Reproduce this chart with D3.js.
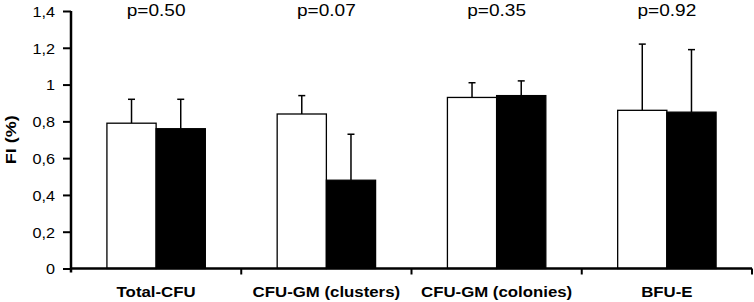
<!DOCTYPE html>
<html>
<head>
<script src="https://cdn.jsdelivr.net/npm/d3@7"></script>
<style type="text/css">
  body{
    margin: 0px;
    background: white;
  }
  svg text{
    font-family: 'Liberation Sans', Arial, sans-serif;
    fill: black;
  }
</style>
</head>
<body>

<svg id="chart" width="754" height="302"></svg>

<script>

// data
var categories = ['Total-CFU', 'CFU-GM (clusters)', 'CFU-GM (colonies)', 'BFU-E'];
var pValues = ['p=0.50', 'p=0.07', 'p=0.35', 'p=0.92'];
var whiteMeans = [0.79, 0.84, 0.93, 0.86];
var whiteErrs  = [0.13, 0.10, 0.08, 0.36];
var blackMeans = [0.76, 0.48, 0.94, 0.85];
var blackErrs  = [0.16, 0.25, 0.08, 0.34];
var yTicks = [0, 0.2, 0.4, 0.6, 0.8, 1, 1.2, 1.4];

var margin = {top: 11, left: 71, right: 2, bottom: 33};
var width = 754, height = 302;

var svg = d3.select('#chart');

var x0 = d3.scaleBand()
  .domain(categories)
  .range([margin.left, width - margin.right])
  .padding(0);

var x1 = d3.scaleBand()
  .domain(['white', 'black'])
  .range([0, x0.bandwidth()])
  .paddingInner(0)
  .paddingOuter(0.73);

var y = d3.scaleLinear()
  .domain([0, 1.4])
  .range([height - margin.bottom - 0.5, margin.top]);

var bars = [];
categories.forEach(function(c, i) {
  bars.push({cat: c, grp: 'white', v: whiteMeans[i], e: whiteErrs[i]});
  bars.push({cat: c, grp: 'black', v: blackMeans[i], e: blackErrs[i]});
});

// error bars first so bar outlines sit on top
var err = svg.append('g').attr('class', 'errors');
bars.forEach(function(d) {
  var cx = x0(d.cat) + x1(d.grp) + x1.bandwidth() / 2;
  err.append('line')
    .attr('x1', cx).attr('x2', cx)
    .attr('y1', y(d.v)).attr('y2', y(d.v + d.e))
    .attr('stroke', 'black').attr('stroke-width', 1.5);
  err.append('line')
    .attr('x1', cx - 3.5).attr('x2', cx + 3.5)
    .attr('y1', y(d.v + d.e)).attr('y2', y(d.v + d.e))
    .attr('stroke', 'black').attr('stroke-width', 1.5);
});

svg.append('g').attr('class', 'bars')
  .selectAll('rect')
  .data(bars)
  .enter()
  .append('rect')
  .attr('x', function(d) { return x0(d.cat) + x1(d.grp); })
  .attr('width', x1.bandwidth())
  .attr('y', function(d) { return y(d.v); })
  .attr('height', function(d) { return y(0) - y(d.v); })
  .attr('fill', function(d) { return d.grp === 'white' ? 'white' : 'black'; })
  .attr('stroke', 'black')
  .attr('stroke-width', 1.3);

// y axis
var yAxis = d3.axisLeft(y)
  .tickValues(yTicks)
  .tickSize(8)
  .tickPadding(8)
  .tickFormat(function(d) { return String(d).replace('.', ','); });

var gy = svg.append('g')
  .attr('transform', 'translate(' + margin.left + ',0)')
  .call(yAxis);
gy.select('.domain').remove();
gy.append('line')
  .attr('x1', 0).attr('x2', 0)
  .attr('y1', y(1.4)).attr('y2', y(0) + 4)
  .attr('stroke', 'black').attr('stroke-width', 2.5);
gy.selectAll('.tick line').attr('stroke-width', 2);
gy.selectAll('.tick text')
  .attr('font-size', '15px')
  .attr('dy', '0.36em')
  .attr('class', 'stretch')
  .attr('data-s', 1.08);

// x axis
svg.append('line')
  .attr('x1', margin.left).attr('x2', width - margin.right)
  .attr('y1', y(0)).attr('y2', y(0))
  .attr('stroke', 'black').attr('stroke-width', 2.5);

var gx = svg.append('g');
categories.forEach(function(c) {
  gx.append('line')
    .attr('x1', x0(c) + x0.bandwidth()).attr('x2', x0(c) + x0.bandwidth())
    .attr('y1', y(0)).attr('y2', y(0) + 6)
    .attr('stroke', 'black').attr('stroke-width', 2);
});

gx.selectAll('text.cat')
  .data(categories)
  .enter()
  .append('text')
  .attr('class', 'stretch')
  .attr('data-s', 1.2)
  .attr('x', function(d) { return x0(d) + x0.bandwidth() / 2; })
  .attr('y', 296.5)
  .attr('text-anchor', 'middle')
  .attr('font-size', '14px')
  .attr('font-weight', 'bold')
  .text(function(d) { return d; });

// p values over each group
svg.append('g')
  .selectAll('text')
  .data(pValues)
  .enter()
  .append('text')
  .attr('class', 'stretch')
  .attr('data-s', 1.12)
  .attr('x', function(d, i) { return x0(categories[i]) + x0.bandwidth() / 2; })
  .attr('y', 16)
  .attr('text-anchor', 'middle')
  .attr('font-size', '17px')
  .text(function(d) { return d; });

// axis title
svg.append('text')
  .attr('class', 'stretch')
  .attr('data-s', 1.2)
  .attr('transform', 'translate(16,' + ((y(0) + y(1.4)) / 2) + ') rotate(-90)')
  .attr('text-anchor', 'middle')
  .attr('font-size', '15px')
  .attr('font-weight', 'bold')
  .text('FI (%)');

// the figure is a bit wider than tall, so stretch the glyphs horizontally
d3.selectAll('text.stretch').each(function() {
  var s = +this.getAttribute('data-s');
  var len = this.getComputedTextLength();
  d3.select(this)
    .attr('textLength', len * s)
    .attr('lengthAdjust', 'spacingAndGlyphs');
});

</script>

</body>
</html>
